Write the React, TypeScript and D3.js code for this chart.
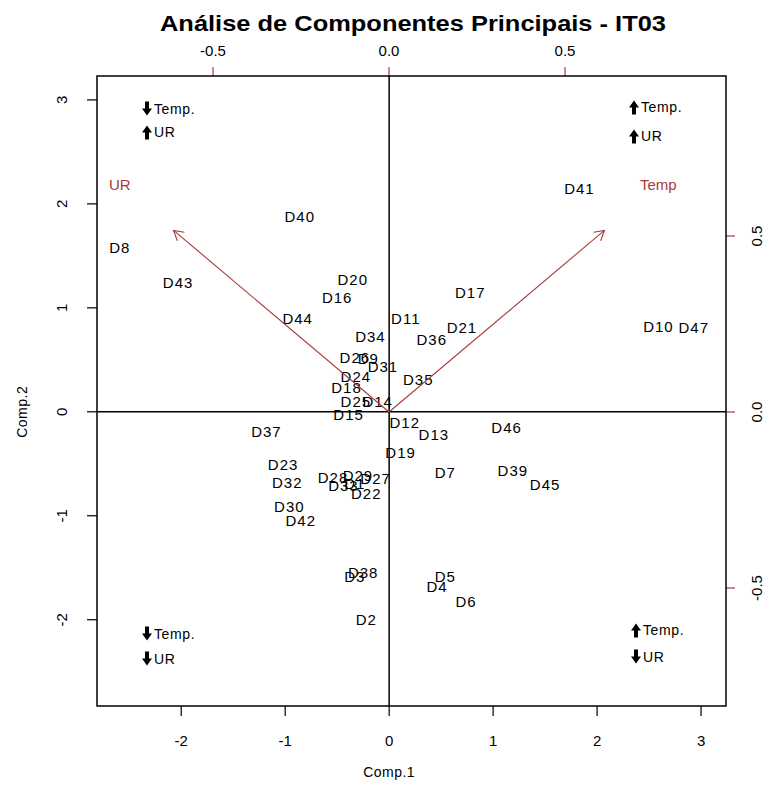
import React from "react";
import * as d3 from "d3";

// Scores (Comp.1, Comp.2)
const labels = ["D1","D2","D3","D4","D5","D6","D7","D8","D9","D10","D11","D12","D13","D14","D15","D16","D17","D18","D19","D20","D21","D22","D23","D24","D25","D26","D27","D28","D29","D30","D31","D32","D33","D34","D35","D36","D37","D38","D39","D40","D41","D42","D43","D44","D45","D46","D47"];
const comp1 = [-0.33,-0.22,-0.33,0.46,0.54,0.74,0.54,-2.59,-0.20,2.59,0.16,0.15,0.43,-0.11,-0.39,-0.50,0.78,-0.41,0.11,-0.35,0.70,-0.22,-1.02,-0.32,-0.32,-0.33,-0.13,-0.54,-0.30,-0.96,-0.06,-0.98,-0.44,-0.18,0.28,0.41,-1.18,-0.25,1.19,-0.86,1.83,-0.85,-2.03,-0.88,1.50,1.13,2.93];
const comp2 = [-0.69,-2.00,-1.58,-1.68,-1.58,-1.82,-0.58,1.58,0.51,0.82,0.90,-0.10,-0.22,0.10,-0.03,1.10,1.15,0.23,-0.39,1.27,0.81,-0.79,-0.51,0.34,0.10,0.52,-0.64,-0.63,-0.61,-0.91,0.44,-0.68,-0.71,0.72,0.31,0.70,-0.19,-1.55,-0.56,1.88,2.15,-1.05,1.24,0.90,-0.70,-0.15,0.81];

// Loadings
const varNames = ["UR", "Temp"];
const load1 = [-0.765, 0.765];
const load2 = [0.645, 0.645];

const xTicks = [-2, -1, 0, 1, 2, 3];
const yTicks = [-2, -1, 0, 1, 2, 3];
const lTicks = [-0.5, 0, 0.5];

// corner legend: [text, direction]
const cornerTL = [["Temp.", "down"], ["UR", "up"]];
const cornerTR = [["Temp.", "up"], ["UR", "up"]];
const cornerBL = [["Temp.", "down"], ["UR", "down"]];
const cornerBR = [["Temp.", "up"], ["UR", "down"]];

const RED = "#a83a3a";
const FONT = "'Liberation Sans', Arial, sans-serif";

const L = 97, R = 726, T = 76, B = 706;

const fmt1 = (t: number) => d3.format(".1f")(t).replace("\u2212", "-");

function Arrow({ cx, cy, dir }: { cx: number; cy: number; dir: string }) {
  const s = dir === "up" ? -1 : 1;
  const d = `M${cx - 5},${cy - s * 0.5} L${cx},${cy + s * 6.5} L${cx + 5},${cy - s * 0.5} L${cx + 2},${cy - s * 0.5} L${cx + 2},${cy - s * 7.5} L${cx - 2},${cy - s * 7.5} L${cx - 2},${cy - s * 0.5} Z`;
  return <path d={d} fill="#000" />;
}

function Corner({ x, y, items, gap }: { x: number; y: number; items: string[][]; gap: number }) {
  return (
    <g>
      {items.map((it, i) => (
        <g key={i}>
          <Arrow cx={x} cy={y + i * gap} dir={it[1]} />
          <text x={x + 7} y={y + i * gap + 5} fontSize={14} fontFamily={FONT} letterSpacing={0.6}>{it[0]}</text>
        </g>
      ))}
    </g>
  );
}

export default function App() {
  const x = d3.scaleLinear().domain([-2.81, 3.24]).range([L, R]);
  const y = d3.scaleLinear().domain([-2.83, 3.23]).range([B, T]);
  const lx = d3.scaleLinear().domain([-292 / 352, 337 / 352]).range([L, R]);
  const ly = d3.scaleLinear().domain([-294 / 352, 336 / 352]).range([B, T]);

  const x0 = x(0), y0 = y(0);

  return (
    <svg width={771} height={797} style={{ position: "absolute", left: 0, top: 0, background: "#fff" }}>
      <rect x={0} y={0} width={771} height={797} fill="#fff" />
      <text x={413} y={31} textAnchor="middle" fontFamily={FONT} fontWeight="bold" fontSize={22} textLength={506} lengthAdjust="spacingAndGlyphs">Análise de Componentes Principais -  IT03</text>

      {/* zero lines */}
      <line x1={L} x2={R} y1={y0} y2={y0} stroke="#000" strokeWidth={1.5} />
      <line x1={x0} x2={x0} y1={T} y2={B} stroke="#000" strokeWidth={1.5} />

      {/* bottom axis */}
      {xTicks.map((t) => (
        <g key={"xb" + t}>
          <line x1={x(t)} x2={x(t)} y1={B} y2={B + 10} stroke="#000" strokeWidth={1.2} />
          <text x={x(t)} y={746} textAnchor="middle" fontSize={15} fontFamily={FONT}>{t}</text>
        </g>
      ))}
      <text x={x0} y={777} textAnchor="middle" fontSize={14} fontFamily={FONT} letterSpacing={0.5}>Comp.1</text>

      {/* left axis */}
      {yTicks.map((t) => (
        <g key={"yl" + t}>
          <line x1={L - 10} x2={L} y1={y(t)} y2={y(t)} stroke="#000" strokeWidth={1.2} />
          <text transform={`translate(67,${y(t)}) rotate(-90)`} textAnchor="middle" fontSize={15} fontFamily={FONT}>{t}</text>
        </g>
      ))}
      <text transform={`translate(27,${y0}) rotate(-90)`} textAnchor="middle" fontSize={14} fontFamily={FONT} letterSpacing={0.5}>Comp.2</text>

      {/* top axis (loadings) */}
      {lTicks.map((t) => (
        <g key={"lt" + t}>
          <line x1={lx(t)} x2={lx(t)} y1={T - 9} y2={T} stroke={RED} strokeWidth={1.2} />
          <text x={lx(t)} y={56} textAnchor="middle" fontSize={15} fontFamily={FONT}>{fmt1(t)}</text>
        </g>
      ))}
      {/* right axis (loadings) */}
      {lTicks.map((t) => (
        <g key={"lr" + t}>
          <line x1={R} x2={R + 9} y1={ly(t)} y2={ly(t)} stroke={RED} strokeWidth={1.2} />
          <text transform={`translate(762,${ly(t)}) rotate(-90)`} textAnchor="middle" fontSize={15} fontFamily={FONT}>{fmt1(t)}</text>
        </g>
      ))}

      {/* frame */}
      <rect x={L} y={T} width={R - L} height={B - T} fill="none" stroke="#000" strokeWidth={1.5} />

      {/* score labels */}
      {labels.map((lab, i) => (
        <text key={lab} x={x(comp1[i])} y={y(comp2[i]) + 5.5} textAnchor="middle" fontSize={15} fontFamily={FONT} letterSpacing={1}>{lab}</text>
      ))}

      {/* loading arrows */}
      {varNames.map((v, i) => {
        const tx = lx(load1[i] * 0.8), ty = ly(load2[i] * 0.8);
        const sx = lx(0), sy = ly(0);
        const ang = Math.atan2(ty - sy, tx - sx);
        const hl = 11, ha = Math.PI / 6;
        const p1 = [tx - hl * Math.cos(ang - ha), ty - hl * Math.sin(ang - ha)];
        const p2 = [tx - hl * Math.cos(ang + ha), ty - hl * Math.sin(ang + ha)];
        return (
          <g key={v}>
            <line x1={sx} y1={sy} x2={tx} y2={ty} stroke={RED} strokeWidth={1.1} />
            <path d={`M${p1[0]},${p1[1]} L${tx},${ty} L${p2[0]},${p2[1]}`} fill="none" stroke={RED} strokeWidth={1.1} />
            <text x={lx(load1[i])} y={ly(load2[i]) + 5.5} textAnchor="middle" fontSize={15} fontFamily={FONT} fill={RED}>{v}</text>
          </g>
        );
      })}

      {/* corner indicators */}
      <Corner x={147} y={109} items={cornerTL} gap={23} />
      <Corner x={634} y={107} items={cornerTR} gap={29} />
      <Corner x={147} y={634} items={cornerBL} gap={25} />
      <Corner x={636} y={630} items={cornerBR} gap={27} />
    </svg>
  );
}
